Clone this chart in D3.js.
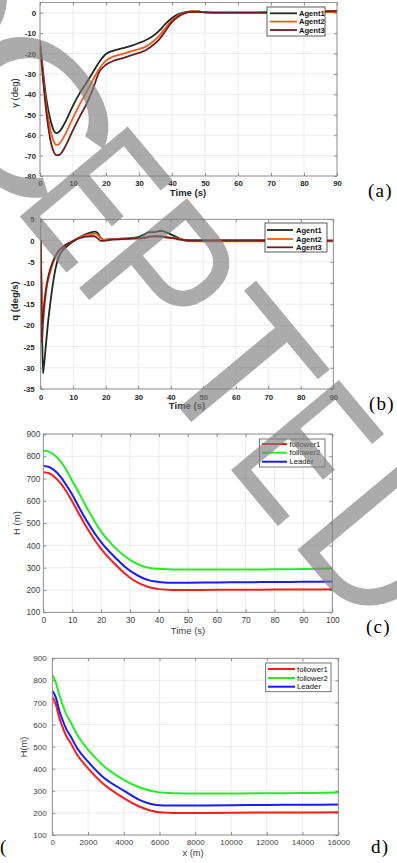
<!DOCTYPE html>
<html>
<head>
<meta charset="utf-8">
<script src="https://cdn.jsdelivr.net/npm/d3@7"></script>
<style>
  body { margin: 0; background: #fff; }
  svg { display: block; }
</style>
</head>
<body>
<svg id="fig" width="397" height="863"></svg>
<script>
// ---- (a) flight path angle gamma (deg) vs time
const tGamma = [0, 0.5, 1, 1.5, 2, 3, 4, 5, 6, 7, 8, 10, 12, 14, 16, 18, 20, 22, 25, 28, 30, 32, 34, 36, 38, 40, 42, 44, 46, 48, 50, 55, 60, 70, 80, 90];
const gammaAgent1 = [-14, -22, -30, -37, -43, -51.5, -57, -59, -58, -55.5, -52.5, -45.5, -39.5, -34.5, -29.3, -24, -20.2, -18.7, -17.4, -16, -14.8, -13.5, -11.7, -9, -5.5, -2.6, -0.7, 0.3, 0.7, 0.6, 0.2, 0, 0, 0.1, 0.3, 0.6];
const gammaAgent2 = [-14.5, -23.5, -32, -40, -46.5, -56, -62.5, -64.8, -64, -61.5, -58.5, -51.5, -45, -39, -33, -27.3, -23.5, -21.6, -20.2, -18.7, -17.8, -16.6, -14.5, -11.5, -7.5, -3.7, -1.2, 0.1, 0.6, 0.5, 0.2, 0, 0, 0.1, 0.3, 0.6];
const gammaAgent3 = [-15.5, -25, -34, -42.5, -50, -61, -67.5, -69.8, -69.5, -67.5, -64.5, -57.5, -51, -45, -37.5, -28.9, -25.5, -23.8, -22.3, -20.7, -19.7, -18.4, -16.2, -13.3, -9, -4.5, -1.8, -0.2, 0.4, 0.4, 0.2, 0, 0, 0.1, 0.4, 0.9];

// ---- (b) pitch rate q (deg/s) vs time
const tQ = [0, 0.2, 0.4, 0.7, 1, 1.4, 1.8, 2.3, 3, 4, 5, 6, 7, 8, 9.5, 11, 12.5, 14, 15.5, 16.5, 17.5, 18.5, 19.5, 21, 24, 27, 30, 32, 33.5, 35, 37, 39, 41, 43, 45, 47, 50, 60, 70, 80, 90];
const qAgent1 = [0, -10, -20, -31.3, -29.5, -26.3, -23, -19, -14.5, -9, -5.2, -3.1, -2.1, -1.4, -0.5, 0.3, 1, 1.5, 1.9, 2.1, 1.8, 0.6, 0.1, 0.3, 0.4, 0.5, 0.8, 1.5, 2, 2, 2.3, 1.8, 1.1, 0.4, 0.1, 0, 0, 0, 0, -0.1, -0.1];
const qAgent2 = [0, -8, -15, -19.5, -17, -13.8, -11.3, -9.3, -7.3, -4.9, -3.1, -2.1, -1.4, -0.9, -0.3, 0.4, 0.9, 1.3, 1.5, 1.6, 1.3, 0.5, 0.2, 0.3, 0.4, 0.5, 0.6, 0.8, 0.9, 1, 1, 0.8, 0.6, 0.3, -0.1, -0.2, -0.2, -0.2, -0.2, -0.2, -0.2];
const qAgent3 = [0, -14, -24, -19, -15.5, -12.8, -10.6, -8.6, -6.6, -4.5, -3, -2, -1.4, -0.9, -0.3, 0.3, 0.7, 0.9, 1, 1, 0.5, -0.1, -0.1, 0.1, 0.3, 0.4, 0.5, 0.6, 0.9, 1, 0.9, 0.7, 0.5, 0.2, 0, 0, 0, 0, 0, 0, 0];

// ---- (c) altitude H (m) vs time
const tH = [0, 2, 4, 6, 8, 10, 12, 14, 16, 18, 20, 22, 25, 28, 31, 34, 37, 40, 43, 46, 50, 60, 70, 80, 90, 100];
const hFollower1 = [728, 724, 706, 679, 642, 597, 550, 503, 460, 420, 385, 354, 313, 276, 246, 225, 211, 204, 201, 200, 200, 201, 201, 202, 202, 203];
const hFollower2 = [825, 821, 804, 777, 738, 690, 644, 594, 548, 503, 462, 429, 388, 354, 327, 309, 299, 295, 293, 292, 292, 292, 292, 293, 294, 296];
const hLeader = [757, 752, 735, 708, 670, 628, 580, 533, 490, 450, 415, 384, 344, 307, 278, 256, 242, 236, 233, 233, 233, 234, 235, 236, 237, 238];

// ---- (d) altitude H (m) vs range x (m)
const xRange = [0, 200, 400, 600, 800, 1000, 1400, 2000, 2800, 4000, 4900, 6000, 6500, 7000, 8000, 10000, 12000, 14000, 16000];
const xFollower1 = [726, 690, 628, 583, 545, 520, 462, 402, 335, 267, 228, 203, 201, 200, 200, 201, 202, 202, 203];
const xFollower2 = [824, 790, 732, 685, 643, 615, 553, 487, 418, 350, 315, 293, 290, 289, 288, 288, 289, 290, 292];
const xLeader = [753, 722, 660, 615, 577, 550, 492, 432, 365, 301, 258, 235, 234, 234, 234, 235, 236, 237, 238];

// tick values
const ticksTime90 = d3.range(0, 91, 10);
const ticksTime100 = d3.range(0, 101, 10);
const ticksRange = d3.range(0, 16001, 2000);
const ticksGamma = d3.range(-80, 1, 10);
const ticksQ = d3.range(-35, 6, 5);
const ticksH = d3.range(100, 901, 100);

const agentNames = ['Agent1', 'Agent2', 'Agent3'];
const agentColors = ['#1c2a1f', '#f45a1e', '#6e1c1c'];
const formationNames = ['follower1', 'follower2', 'Leader'];
const formationColors = ['#ff1a1a', '#22ee22', '#1a1aff'];

const svg = d3.select('#fig');
const FONT = 'Liberation Sans, Arial, Helvetica, sans-serif';

function drawPanel(p) {
  const x = d3.scaleLinear().domain(p.xDomain).range([p.left, p.right]);
  const y = d3.scaleLinear().domain(p.yDomain).range([p.bottom, p.top]);
  const g = svg.append('g').attr('font-family', FONT);

  // grid
  g.append('g').selectAll('line').data(p.xTicks).join('line')
    .attr('x1', d => x(d)).attr('x2', d => x(d))
    .attr('y1', p.top).attr('y2', p.bottom)
    .attr('stroke', '#e4e4e4').attr('stroke-width', 0.7);
  g.append('g').selectAll('line').data(p.yTicks).join('line')
    .attr('x1', p.left).attr('x2', p.right)
    .attr('y1', d => y(d)).attr('y2', d => y(d))
    .attr('stroke', '#e4e4e4').attr('stroke-width', 0.7);

  // curves
  g.append('clipPath').attr('id', 'clip-' + p.id)
    .append('rect')
    .attr('x', p.left).attr('y', p.top)
    .attr('width', p.right - p.left).attr('height', p.bottom - p.top);
  const line = d3.line()
    .x(d => x(d[0]))
    .y(d => y(d[1]))
    .curve(d3.curveMonotoneX);
  p.series.forEach(s => {
    g.append('path')
      .datum(d3.zip(p.xs, s.values))
      .attr('clip-path', `url(#clip-${p.id})`)
      .attr('fill', 'none')
      .attr('stroke', s.color)
      .attr('stroke-width', p.lineWidth)
      .attr('stroke-linejoin', 'round')
      .attr('d', line);
  });

  // axes (MATLAB style: ticks inside, on all four sides)
  const fmt = d => String(d);
  g.append('g').attr('transform', `translate(0,${p.bottom})`)
    .call(d3.axisBottom(x).tickValues(p.xTicks).tickSize(-3).tickPadding(p.padX).tickFormat(fmt));
  g.append('g').attr('transform', `translate(${p.left},0)`)
    .call(d3.axisLeft(y).tickValues(p.yTicks).tickSize(-3).tickPadding(p.padY).tickFormat(fmt));
  g.append('g').attr('transform', `translate(0,${p.top})`)
    .call(d3.axisTop(x).tickValues(p.xTicks).tickSize(-3).tickFormat(''));
  g.append('g').attr('transform', `translate(${p.right},0)`)
    .call(d3.axisRight(y).tickValues(p.yTicks).tickSize(-3).tickFormat(''));
  g.selectAll('.domain').remove();
  g.selectAll('.tick line').attr('stroke', '#666').attr('stroke-width', 0.7);
  g.selectAll('.tick text')
    .attr('font-family', FONT)
    .attr('font-size', p.tickSize)
    .attr('font-weight', p.bold ? 'bold' : 'normal')
    .attr('fill', p.textColor);

  g.append('rect')
    .attr('x', p.left).attr('y', p.top)
    .attr('width', p.right - p.left).attr('height', p.bottom - p.top)
    .attr('fill', 'none').attr('stroke', '#7d7d7d').attr('stroke-width', 0.8);

  // axis titles
  g.append('text')
    .attr('x', p.xTitlePos[0]).attr('y', p.xTitlePos[1])
    .attr('text-anchor', 'middle')
    .attr('font-size', p.titleSize)
    .attr('font-weight', p.bold ? 'bold' : 'normal')
    .attr('fill', p.textColor)
    .text(p.xTitle);
  g.append('text')
    .attr('transform', `translate(${p.yTitlePos[0]},${p.yTitlePos[1]}) rotate(-90)`)
    .attr('text-anchor', 'middle')
    .attr('font-size', p.titleSize)
    .attr('font-weight', p.yTitleBold ? 'bold' : 'normal')
    .attr('fill', p.textColor)
    .text(p.yTitle);

  // legend
  const L = p.legend;
  g.append('rect')
    .attr('x', L.x0).attr('y', L.y0)
    .attr('width', L.x1 - L.x0).attr('height', L.y1 - L.y0)
    .attr('fill', '#fff').attr('stroke', L.border).attr('stroke-width', 0.8);
  p.series.forEach((s, i) => {
    g.append('line')
      .attr('x1', L.lineX[0]).attr('x2', L.lineX[1])
      .attr('y1', L.rows[i]).attr('y2', L.rows[i])
      .attr('stroke', s.color).attr('stroke-width', p.lineWidth);
    g.append('text')
      .attr('x', L.textX).attr('y', L.rows[i])
      .attr('dy', '0.35em')
      .attr('font-size', L.fontSize)
      .attr('font-weight', p.bold ? 'bold' : 'normal')
      .attr('fill', '#111')
      .text(s.name);
  });

  // panel tag
  p.tags.forEach(t => {
    svg.append('text')
      .attr('x', t.x).attr('y', t.y)
      .attr('font-family', 'Liberation Serif, Times New Roman, serif')
      .attr('font-size', 19)
      .attr('letter-spacing', 1.2)
      .attr('fill', '#000')
      .text(t.text);
  });
}

drawPanel({
  id: 'a', left: 40, right: 337, top: 2.5, bottom: 176,
  xDomain: [0, 90], yDomain: [-80, 5], xTicks: ticksTime90, yTicks: ticksGamma,
  xs: tGamma,
  series: [
    { name: agentNames[0], color: agentColors[0], values: gammaAgent1 },
    { name: agentNames[1], color: agentColors[1], values: gammaAgent2 },
    { name: agentNames[2], color: agentColors[2], values: gammaAgent3 }
  ],
  lineWidth: 1.8, bold: true, yTitleBold: false, tickSize: 7.8, titleSize: 9.5, textColor: '#262626',
  padX: 4, padY: 4,
  xTitle: 'Time (s)', xTitlePos: [188, 196],
  yTitle: 'γ (deg)', yTitlePos: [18, 93],
  legend: { x0: 267, y0: 7, x1: 325, y1: 36, rows: [13.3, 21.6, 30], lineX: [270, 297], textX: 299, fontSize: 7.6, border: '#333' },
  tags: [{ text: '(a)', x: 368, y: 197 }]
});

drawPanel({
  id: 'b', left: 40.7, right: 333.3, top: 219.3, bottom: 389,
  xDomain: [0, 90], yDomain: [-35, 5], xTicks: ticksTime90, yTicks: ticksQ,
  xs: tQ,
  series: [
    { name: agentNames[0], color: agentColors[0], values: qAgent1 },
    { name: agentNames[1], color: agentColors[1], values: qAgent2 },
    { name: agentNames[2], color: agentColors[2], values: qAgent3 }
  ],
  lineWidth: 1.8, bold: true, yTitleBold: true, tickSize: 7.8, titleSize: 9.5, textColor: '#262626',
  padX: 5, padY: 6,
  xTitle: 'Time (s)', xTitlePos: [187, 409],
  yTitle: 'q (deg/s)', yTitlePos: [18, 301],
  legend: { x0: 265, y0: 223, x1: 327, y1: 252, rows: [230, 239, 247.3], lineX: [267, 293], textX: 296, fontSize: 7.6, border: '#333' },
  tags: [{ text: '(b)', x: 369, y: 410 }]
});

drawPanel({
  id: 'c', left: 43.3, right: 332.3, top: 434, bottom: 612.3,
  xDomain: [0, 100], yDomain: [100, 900], xTicks: ticksTime100, yTicks: ticksH,
  xs: tH,
  series: [
    { name: formationNames[0], color: formationColors[0], values: hFollower1 },
    { name: formationNames[1], color: formationColors[1], values: hFollower2 },
    { name: formationNames[2], color: formationColors[2], values: hLeader }
  ],
  lineWidth: 2, bold: false, yTitleBold: false, tickSize: 8.3, titleSize: 9.5, textColor: '#404040',
  padX: 4.5, padY: 3,
  xTitle: 'Time (s)', xTitlePos: [188, 633.5],
  yTitle: 'H (m)', yTitlePos: [19.5, 523],
  legend: { x0: 259.5, y0: 439, x1: 325, y1: 467, rows: [444, 452.7, 461.7], lineX: [262, 287], textX: 289.5, fontSize: 7.7, border: '#555' },
  tags: [{ text: '(c)', x: 366, y: 632.5 }]
});

drawPanel({
  id: 'd', left: 52.3, right: 338.3, top: 658.3, bottom: 835,
  xDomain: [0, 16000], yDomain: [100, 900], xTicks: ticksRange, yTicks: ticksH,
  xs: xRange,
  series: [
    { name: formationNames[0], color: formationColors[0], values: xFollower1 },
    { name: formationNames[1], color: formationColors[1], values: xFollower2 },
    { name: formationNames[2], color: formationColors[2], values: xLeader }
  ],
  lineWidth: 2, bold: false, yTitleBold: false, tickSize: 8.1, titleSize: 9.3, textColor: '#404040',
  padX: 4, padY: 5.5,
  xTitle: 'x (m)', xTitlePos: [193, 855.5],
  yTitle: 'H(m)', yTitlePos: [27, 747],
  legend: { x0: 265.7, y0: 663, x1: 331, y1: 691.7, rows: [669, 678, 686.7], lineX: [268, 295], textX: 297, fontSize: 7.7, border: '#555' },
  tags: [{ text: '(', x: 0, y: 853 }, { text: 'd)', x: 371, y: 853 }]
});

// ---- "ACCEPTED" watermark laid over the figure (letters placed one by one along a 50° baseline)
const wmText = ['A', 'C', 'C', 'E', 'P', 'T', 'E', 'D'];
const wmAlong = [-250, -115, 15, 168, 258, 375, 498, 598];
const wmStretch = [1, 0.97, 1.2, 0.66, 0.83, 1, 0.66, 0.87];
const wm = svg.append('g')
  .attr('transform', 'translate(-94.8,79) rotate(50.2)')
  .attr('opacity', 0.65)
  .attr('fill', '#7f7f7f')
  .attr('font-family', FONT)
  .attr('font-size', 204);
wm.selectAll('text').data(wmText).join('text')
  .attr('transform', (d, i) => `translate(${wmAlong[i]},0) scale(${wmStretch[i]},1)`)
  .text(d => d);
</script>
</body>
</html>
